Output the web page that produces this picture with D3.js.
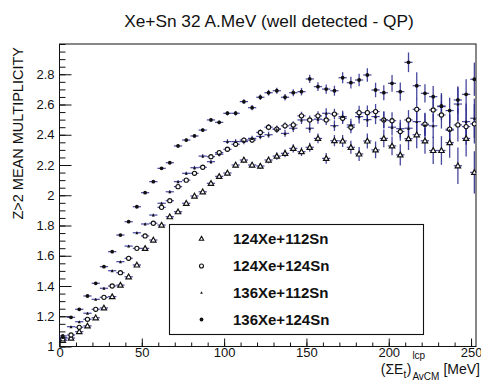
<!DOCTYPE html>
<html><head><meta charset="utf-8">
<script src="https://cdn.jsdelivr.net/npm/d3@7"></script>
<style>html,body{margin:0;padding:0;background:#fff;} svg{display:block;font-family:"Liberation Sans",Arial,Helvetica,sans-serif;}</style>
</head><body>
<svg id="c" width="481" height="381"></svg>
<script>
// ---- data ----
const xCenters = [2,7,12,17,22,27,32,37,42,47,52,57,62,67,72,77,82,87,92,97,102,107,112,117,122,127,132,137,142,147,152,157,162,167,172,177,182,187,192,197,202,207,212,217,222,227,232,237,242,247,252];
const binHalfWidth = 2.5;
const seriesNames = ["124Xe+112Sn","124Xe+124Sn","136Xe+112Sn","136Xe+124Sn"];
const xe124sn112 = [1.04,1.056,1.098,1.136,1.19,1.255,1.33,1.406,1.461,1.539,1.649,1.704,1.803,1.858,1.891,1.947,1.995,2.023,2.079,2.125,2.147,2.2,2.233,2.2,2.193,2.233,2.259,2.277,2.31,2.288,2.317,2.376,2.244,2.361,2.359,2.317,2.273,2.359,2.3,2.376,2.326,2.267,2.374,2.40,2.36,2.296,2.296,2.348,2.195,2.376,2.151];
const xe124sn124 = [1.05,1.076,1.127,1.18,1.246,1.325,1.4,1.488,1.583,1.649,1.731,1.815,1.92,1.964,2.057,2.1,2.145,2.185,2.255,2.282,2.304,2.337,2.365,2.365,2.415,2.45,2.437,2.459,2.465,2.525,2.498,2.525,2.498,2.537,2.509,2.45,2.546,2.546,2.553,2.498,2.493,2.421,2.498,2.568,2.47,2.564,2.531,2.437,2.465,2.454,2.472];
const xe136sn112 = [1.06,1.131,1.164,1.22,1.312,1.385,1.501,1.561,1.664,1.752,1.81,1.869,1.947,2.023,2.09,2.145,2.182,2.259,2.222,2.271,2.355,2.355,2.355,2.376,2.389,2.4,2.437,2.409,2.443,2.498,2.443,2.503,2.542,2.46,2.52,2.465,2.52,2.5,2.52,2.498,2.45,2.44,2.443,2.487,2.465,2.459,2.586,2.43,2.603,2.487,2.509];
const xe136sn124 = [1.07,1.193,1.246,1.334,1.418,1.528,1.627,1.737,1.825,1.924,2.017,2.09,2.178,2.215,2.326,2.365,2.392,2.431,2.498,2.482,2.542,2.542,2.619,2.579,2.648,2.678,2.691,2.648,2.678,2.685,2.769,2.718,2.702,2.691,2.777,2.744,2.762,2.795,2.696,2.678,2.74,2.685,2.879,2.724,2.674,2.652,2.59,2.56,2.63,2.667,2.767];
const err124sn112 = [0.006,0.005,0.005,0.005,0.006,0.006,0.006,0.007,0.007,0.008,0.008,0.009,0.009,0.01,0.011,0.012,0.012,0.013,0.014,0.015,0.016,0.017,0.018,0.019,0.02,0.022,0.024,0.025,0.027,0.029,0.03,0.033,0.035,0.037,0.04,0.043,0.046,0.05,0.055,0.058,0.062,0.07,0.075,0.09,0.085,0.09,0.095,0.1,0.12,0.12,0.14];
const err124sn124 = [0.006,0.005,0.005,0.005,0.005,0.006,0.006,0.006,0.007,0.007,0.008,0.008,0.009,0.01,0.01,0.011,0.012,0.012,0.013,0.014,0.015,0.016,0.017,0.018,0.019,0.02,0.022,0.023,0.025,0.027,0.029,0.031,0.033,0.035,0.038,0.04,0.045,0.048,0.05,0.055,0.055,0.06,0.065,0.07,0.075,0.08,0.09,0.1,0.11,0.12,0.13];
const err136sn112 = [0.006,0.005,0.005,0.005,0.005,0.006,0.006,0.006,0.007,0.007,0.008,0.008,0.009,0.01,0.01,0.011,0.012,0.012,0.013,0.014,0.015,0.016,0.017,0.018,0.019,0.02,0.022,0.023,0.025,0.027,0.029,0.031,0.033,0.035,0.038,0.04,0.045,0.048,0.05,0.055,0.055,0.06,0.065,0.07,0.075,0.08,0.09,0.1,0.11,0.12,0.13];
const err136sn124 = [0.006,0.005,0.005,0.005,0.005,0.006,0.006,0.006,0.007,0.007,0.008,0.008,0.009,0.009,0.01,0.01,0.011,0.012,0.012,0.013,0.014,0.015,0.016,0.017,0.018,0.019,0.02,0.022,0.023,0.025,0.027,0.029,0.031,0.033,0.036,0.039,0.042,0.045,0.048,0.05,0.055,0.06,0.065,0.09,0.06,0.07,0.075,0.085,0.09,0.1,0.11];
const yMajorTicks = [1,1.2,1.4,1.6,1.8,2,2.2,2.4,2.6,2.8];
const yTickLabels = ["1","1.2","1.4","1.6","1.8","2","2.2","2.4","2.6","2.8"];
const xMajorTicks = [0,50,100,150,200,250];
const xTickLabels = ["0","50","100","150","200","250"];
const yMinorStep = 0.05, xMinorStep = 10;
const titleText = "Xe+Sn 32 A.MeV (well detected - QP)";
const yTitleText = "Z>2 MEAN MULTIPLICITY";

// ---- layout ----
const svg = d3.select("#c");
const L = 59.5, R = 476, T = 44, B = 346.5;
const x = d3.scaleLinear().domain([0, 253]).range([L, R]);
const y = d3.scaleLinear().domain([1, 3]).range([B, T]);

svg.append("rect").attr("width",481).attr("height",381).attr("fill","#fff");

// title
svg.append("text").attr("x",269).attr("y",27).attr("text-anchor","middle")
  .attr("font-size","17.3px").attr("fill","#111").text(titleText);

// y title
svg.append("text").attr("transform","translate(22.5,47) rotate(-90)")
  .attr("text-anchor","end").attr("font-size","14.5px").attr("fill","#111").text(yTitleText);

// clip
svg.append("clipPath").attr("id","clp").append("rect")
  .attr("x",L).attr("y",T).attr("width",R-L).attr("height",B-T);

// axes
const yMinor = d3.range(1, 3.0001, yMinorStep);
const xMinor = d3.range(0, 253, xMinorStep);
const gy = svg.append("g").attr("transform",`translate(${L},0)`);
gy.call(d3.axisLeft(y).tickValues(yMinor).tickSize(-6).tickFormat(""));
gy.select(".domain").remove();
const gy2 = svg.append("g").attr("transform",`translate(${L},0)`);
gy2.call(d3.axisLeft(y).tickValues(yMajorTicks).tickSize(-12).tickPadding(5)
  .tickFormat((d,i)=>yTickLabels[i]));
gy2.select(".domain").remove();
gy2.selectAll("text").attr("font-size","13px").attr("fill","#111").attr("font-family",'"Liberation Sans",Arial,sans-serif');

const gx = svg.append("g").attr("transform",`translate(0,${B})`);
gx.call(d3.axisBottom(x).tickValues(xMinor).tickSize(-4).tickFormat(""));
gx.select(".domain").remove();
const gx2 = svg.append("g").attr("transform",`translate(0,${B})`);
gx2.call(d3.axisBottom(x).tickValues(xMajorTicks).tickSize(-8).tickPadding(1)
  .tickFormat((d,i)=>xTickLabels[i]));
gx2.select(".domain").remove();
gx2.selectAll("text").attr("font-size","13px").attr("fill","#111").attr("font-family",'"Liberation Sans",Arial,sans-serif');
svg.selectAll(".tick line").attr("stroke","#111");

// frame
svg.append("rect").attr("x",L).attr("y",T).attr("width",R-L).attr("height",B-T)
  .attr("fill","none").attr("stroke","#111").attr("stroke-width",1);

// x title
(function(){
  const g = svg.append("g").attr("fill","#111");
  const base = 374;
  let cx = 0;
  function piece(t, size, dy){
    return g.append("text").attr("font-size",size+"px").attr("y",base+dy).text(t);
  }
  const p1 = piece("(ΣE",14,0); p1.attr("x",cx); cx += p1.node().getComputedTextLength();
  const p2 = piece("t",10,4); p2.attr("x",cx); cx += p2.node().getComputedTextLength()+0.5;
  const p3 = piece(")",14,0); p3.attr("x",cx); cx += p3.node().getComputedTextLength()+1;
  const p4 = piece("lcp",10,-15); p4.attr("x",cx);
  const p5 = piece("AvCM",10,5.5); p5.attr("x",cx);
  cx += Math.max(p4.node().getComputedTextLength(), p5.node().getComputedTextLength()) + 4;
  const p6 = piece("[MeV]",14,0); p6.attr("x",cx); cx += p6.node().getComputedTextLength();
  g.attr("transform",`translate(${480-cx},0)`);
})();

// data
const series = [
  {name:seriesNames[0], vals:xe124sn112, errs:err124sn112, marker:"otri"},
  {name:seriesNames[1], vals:xe124sn124, errs:err124sn124, marker:"ocirc"},
  {name:seriesNames[2], vals:xe136sn112, errs:err136sn112, marker:"stri"},
  {name:seriesNames[3], vals:xe136sn124, errs:err136sn124, marker:"fcirc"}
];
const ebColor = "#28288e";
const plot = svg.append("g").attr("clip-path","url(#clp)");

function drawMarker(g, type, px, py){
  if(type==="otri"){
    const s=2.7;
    g.append("path").attr("d",`M${px},${py-s}L${px+s},${py+s*0.75}L${px-s},${py+s*0.75}Z`)
      .attr("fill","#fff").attr("stroke","#111").attr("stroke-width",1.2);
  } else if(type==="ocirc"){
    g.append("circle").attr("cx",px).attr("cy",py).attr("r",2.1)
      .attr("fill","#fff").attr("stroke","#111").attr("stroke-width",1.1);
  } else if(type==="stri"){
    const s=1.5;
    g.append("path").attr("d",`M${px},${py-s}L${px+s},${py+s}L${px-s},${py+s}Z`).attr("fill","#111");
  } else {
    g.append("circle").attr("cx",px).attr("cy",py).attr("r",1.9).attr("fill","#111");
  }
}

series.forEach(s=>{
  const g = plot.append("g");
  s.vals.forEach((v,i)=>{
    const xc = xCenters[i];
    g.append("line").attr("x1",x(xc-binHalfWidth)).attr("x2",x(xc+binHalfWidth))
      .attr("y1",y(v)).attr("y2",y(v)).attr("stroke",ebColor).attr("stroke-width",1.2).attr("opacity",0.85);
    g.append("line").attr("x1",x(xc)).attr("x2",x(xc))
      .attr("y1",y(v-s.errs[i])).attr("y2",y(v+s.errs[i])).attr("stroke",ebColor).attr("stroke-width",1.3).attr("opacity",0.85);
  });
});
series.forEach(s=>{
  const g = plot.append("g");
  s.vals.forEach((v,i)=> drawMarker(g, s.marker, x(xCenters[i]), y(v)));
});

// legend
const lg = svg.append("g");
lg.append("rect").attr("x",169.5).attr("y",224.5).attr("width",254).attr("height",110)
  .attr("fill","#fff").attr("stroke","#111").attr("stroke-width",1.1);
const rowsY = [238.5,266,292.5,319.5];
const legMarkers = ["otri","ocirc","stri","fcirc"];
series.forEach((s,i)=>{
  const gm = lg.append("g");
  if(legMarkers[i]==="otri"){
    gm.append("path").attr("d",`M201.5,${rowsY[i]-2.2}L203.7,${rowsY[i]+1.8}L199.3,${rowsY[i]+1.8}Z`)
      .attr("fill","#fff").attr("stroke","#111").attr("stroke-width",1.1);
  } else if(legMarkers[i]==="ocirc"){
    gm.append("circle").attr("cx",201.5).attr("cy",rowsY[i]).attr("r",2).attr("fill","#fff").attr("stroke","#111").attr("stroke-width",1.1);
  } else if(legMarkers[i]==="stri"){
    gm.append("path").attr("d",`M201.5,${rowsY[i]-1.3}L202.8,${rowsY[i]+1.3}L200.2,${rowsY[i]+1.3}Z`).attr("fill","#111");
  } else {
    gm.append("circle").attr("cx",201.5).attr("cy",rowsY[i]).attr("r",1.9).attr("fill","#111");
  }
  lg.append("text").attr("x",233).attr("y",rowsY[i]+5.3).attr("font-size","15px")
    .attr("font-weight","bold").attr("fill","#111").text(s.name);
});
</script>
</body></html>
